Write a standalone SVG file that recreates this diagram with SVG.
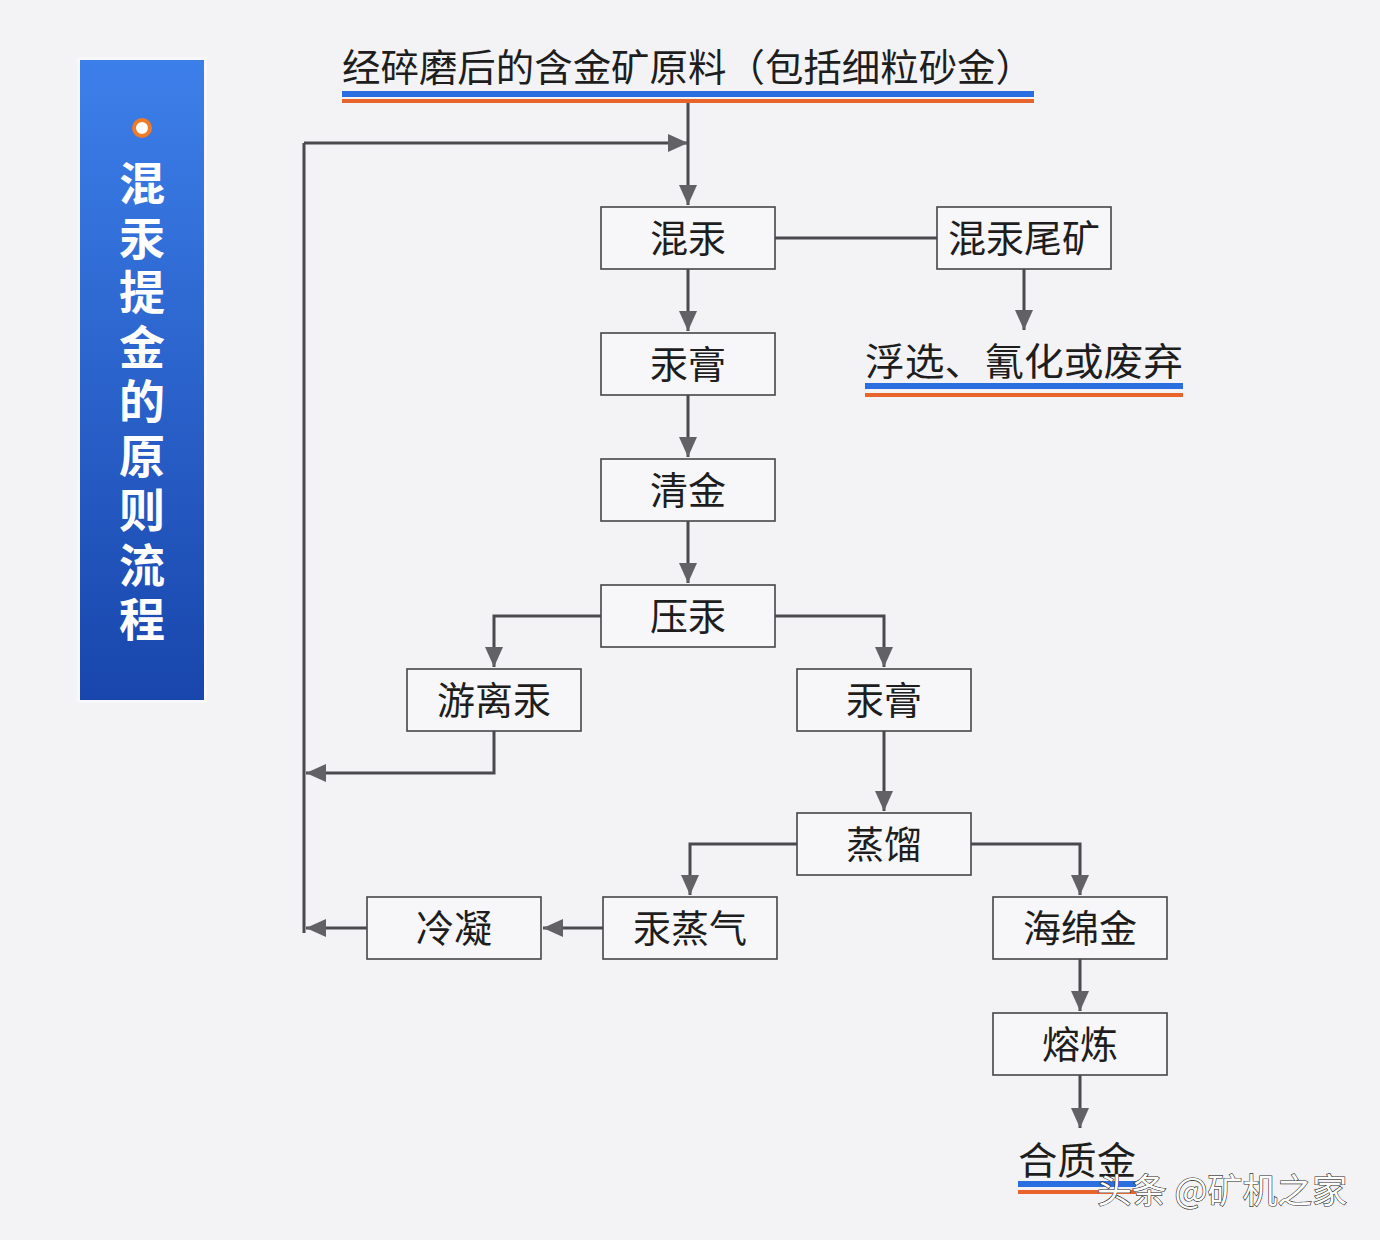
<svg xmlns="http://www.w3.org/2000/svg" width="1380" height="1240" viewBox="0 0 1380 1240">
<defs>
<linearGradient id="side" x1="0" y1="0" x2="0" y2="1">
<stop offset="0" stop-color="#3d7fea"/>
<stop offset="1" stop-color="#1846ac"/>
</linearGradient>
<marker id="ah" markerUnits="userSpaceOnUse" markerWidth="22" markerHeight="20" refX="20" refY="9" orient="auto">
<path d="M0,0 L20,9 L0,18 Z" fill="#626266"/>
</marker>
<style>
.box rect{fill:#f7f7f9;stroke:#454548;stroke-width:1.6}
.box text,.lbl{font-family:"Noto Sans CJK SC","Noto Sans",sans-serif;font-size:38px;fill:#1e1e1e;text-anchor:middle}
.lbl{text-anchor:start}
.con path{fill:none;stroke:#4a4a4e;stroke-width:3}
.arr{marker-end:url(#ah)}
.side{font-family:"Noto Sans CJK SC",sans-serif;font-size:46px;font-weight:bold;fill:#fff;writing-mode:vertical-rl;letter-spacing:8.5px}
</style>
</defs>
<rect width="1380" height="1240" fill="#f3f3f6"/>
<g id="sidebar">
<rect x="77" y="57" width="130" height="646" fill="#f8f8fb"/>
<rect x="80" y="60" width="124" height="640" fill="url(#side)"/>
<circle cx="142" cy="128" r="8" fill="#fff" stroke="#ef7a28" stroke-width="4"/>
<text class="side" x="142" y="160">混汞提金的原则流程</text>
</g>
<g id="source">
<text class="lbl" x="342" y="81" textLength="692" lengthAdjust="spacingAndGlyphs">经碎磨后的含金矿原料（包括细粒砂金）</text>
<rect x="342" y="91" width="692" height="6" fill="#2a6ee0"/>
<rect x="342" y="99" width="692" height="4" fill="#e8642a"/>
</g>
<g id="n-hungong" class="box"><rect x="601" y="207" width="174" height="62"/><text x="688" y="252">混汞</text></g>
<g id="n-tailings" class="box"><rect x="937" y="207" width="174" height="62"/><text x="1024" y="252">混汞尾矿</text></g>
<g id="n-fate">
<text class="lbl" x="865" y="375" textLength="318" lengthAdjust="spacingAndGlyphs">浮选、氰化或废弃</text>
<rect x="865" y="383" width="318" height="6" fill="#2a6ee0"/>
<rect x="865" y="393" width="318" height="4" fill="#e8642a"/>
</g>
<g id="n-amalgam1" class="box"><rect x="601" y="333" width="174" height="62"/><text x="688" y="378">汞膏</text></g>
<g id="n-clean" class="box"><rect x="601" y="459" width="174" height="62"/><text x="688" y="504">清金</text></g>
<g id="n-press" class="box"><rect x="601" y="585" width="174" height="62"/><text x="688" y="630">压汞</text></g>
<g id="n-free" class="box"><rect x="407" y="669" width="174" height="62"/><text x="494" y="714">游离汞</text></g>
<g id="n-amalgam2" class="box"><rect x="797" y="669" width="174" height="62"/><text x="884" y="714">汞膏</text></g>
<g id="n-distill" class="box"><rect x="797" y="813" width="174" height="62"/><text x="884" y="858">蒸馏</text></g>
<g id="n-vapor" class="box"><rect x="603" y="897" width="174" height="62"/><text x="690" y="942">汞蒸气</text></g>
<g id="n-condense" class="box"><rect x="367" y="897" width="174" height="62"/><text x="454" y="942">冷凝</text></g>
<g id="n-sponge" class="box"><rect x="993" y="897" width="174" height="62"/><text x="1080" y="942">海绵金</text></g>
<g id="n-smelt" class="box"><rect x="993" y="1013" width="174" height="62"/><text x="1080" y="1058">熔炼</text></g>
<g id="n-bullion">
<text class="lbl" x="1018" y="1174" textLength="118" lengthAdjust="spacingAndGlyphs">合质金</text>
<rect x="1018" y="1181" width="118" height="6" fill="#2a6ee0"/>
<rect x="1018" y="1190" width="118" height="4" fill="#e8642a"/>
</g>
<g id="connectors" class="con">
<path class="arr" d="M688,103 V205"/>
<path d="M304,933 V143"/>
<path class="arr" d="M304,143 H688"/>
<path d="M775,238 H937"/>
<path class="arr" d="M1024,269 V330"/>
<path class="arr" d="M688,269 V331"/>
<path class="arr" d="M688,395 V457"/>
<path class="arr" d="M688,521 V583"/>
<path class="arr" d="M601,616 H494 V667"/>
<path class="arr" d="M775,616 H884 V667"/>
<path class="arr" d="M494,731 V773 H306"/>
<path class="arr" d="M884,731 V811"/>
<path class="arr" d="M797,844 H690 V895"/>
<path class="arr" d="M971,844 H1080 V895"/>
<path class="arr" d="M603,928 H543"/>
<path class="arr" d="M367,928 H306"/>
<path class="arr" d="M1080,959 V1011"/>
<path class="arr" d="M1080,1075 V1128"/>
</g>
<g id="watermark">
<text x="1097" y="1203" textLength="250" lengthAdjust="spacingAndGlyphs" font-family="Noto Sans CJK SC, sans-serif" font-size="34" fill="#ffffff" stroke="#2a2a2a" stroke-width="1.2" paint-order="stroke">头条 @矿机之家</text>
</g>
</svg>
